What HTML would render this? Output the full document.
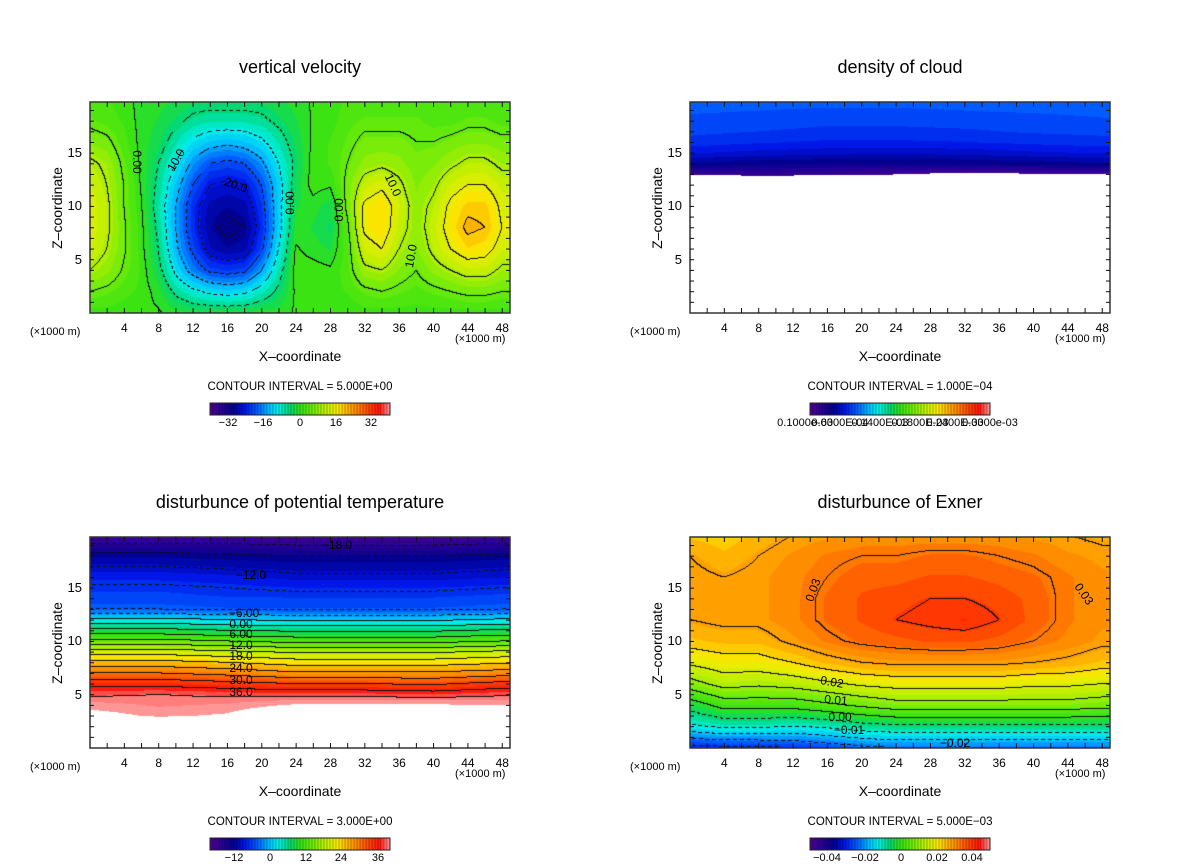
<!DOCTYPE html>
<html><head><meta charset="utf-8">
<style>
body{margin:0;background:#fff;width:1200px;height:868px;position:relative;overflow:hidden;font-family:"Liberation Sans",sans-serif;color:#000}
.t{position:absolute;white-space:nowrap}
.title{font-size:18px;transform:translateX(-50%)}
.small{font-size:12px}
canvas{position:absolute}
</style></head><body>
<div id="root"></div>
<script>
// ---------- DATA ----------
const wXs=[0,2,4,6,8,10,12,14,16,18,20,22,24,26,28,30,32,34,36,38,40,42,44,46,48];
const wZs=[20,18,16,14,12,10,8,6,4,2,0];
const wVals=[
[2,2,0.6,-0.6,-1,-2,-3,-3,-3,-3,-3,-2,-1,0.3,1,2,2,2,2,2,2,2,2,2,2],
[4,3,1.5,-0.8,-2,-4,-6,-7,-7,-7,-6,-4,-2,0.3,1,3,4,4,4,4,3,3,4,4,3],
[7,6,2.5,-0.8,-3,-7,-11,-13,-14,-13,-11,-7,-3,0.4,2,4,6,6,6,5,5,6,7,7,6],
[11,9,4,-0.5,-5,-10,-16,-20,-21,-20,-16,-10,-4,1,2,5,8,9,8,6,7,9,11,11,9],
[13,10,5,-0.3,-6,-13,-20,-25,-26,-25,-20,-12,-3,1,0.4,6,12,14,11,7,9,13,15,15,12],
[14,11,5,0.3,-7,-15,-23,-28,-29,-28,-22,-12,-2,-1,-3,6,16,18,13,8,11,16,19,19,14],
[14,11,5.5,0.8,-6,-15,-23,-29,-31,-30,-23,-12,-1,-2,-4,4,16,18,12,8,12,17,21,20,15],
[13,10,5.5,1,-5,-14,-21,-27,-29,-28,-21,-10,0.3,-1,-2,3,13,15,10,7,11,15,18,17,13],
[10,8,4.5,1.5,-3.5,-11,-17,-21,-22,-21,-15,-7,1,1,0.4,3,9,10,7,5,8,10,12,12,9],
[5,4,2.5,1.3,-1,-6,-9,-11,-12,-11,-8,-4,0.4,1,1,2,4,5,4,3,4,5,6,6,5],
[1,1,0.6,0.5,0.3,-1,-2,-2,-2,-2,-1,-1,0.3,0.3,0.3,0.3,1,1,1,1,1,1,1,1,1]];
const cXs=[0,8,16,24,32,40,48];
const cZs=[20,19,18,17,16,15,14,13,12,0];
const cVals=[
[7.8,7.8,7.8,7.8,7.8,7.8,7.8],
[7.6,7.5,7.4,7.4,7.5,7.6,7.7],
[7.3,7.2,7,7,7.1,7.2,7.4],
[7,6.8,6.6,6.6,6.7,6.9,7],
[6.5,6.2,6,6,6.1,6.3,6.5],
[5.5,5.2,5,4.9,5,5.3,5.5],
[4,3.6,3.4,3.4,3.5,3.7,4],
[1.2,1.8,1.5,1,0.5,0.8,0.9],
[-5,-5,-5,-5,-5,-5,-5],
[-9,-9,-9,-9,-9,-9,-9]];
const tXs=[0,8,16,24,32,40,48];
const tZs=[20,19,18,17,16,15,14,13,12,11,10,9,8,7,6,5,4,3,2,0];
const tVals=[
[-21,-21,-21,-21,-21,-21,-21],
[-17.5,-17.5,-17.5,-18,-18,-18,-17.5],
[-14,-14,-14.5,-15,-15,-15,-14.5],
[-12,-12,-12.5,-13,-13,-13,-12.5],
[-10,-10,-10.5,-11.5,-11.5,-11.5,-11],
[-8.5,-8.5,-9,-9.5,-9.5,-9.5,-9],
[-7.5,-7.5,-8,-8,-8,-8,-7.5],
[-6,-6,-6.5,-6.5,-6.5,-6.5,-6],
[1,1,0,-0.5,-0.5,-0.5,0.5],
[7,7,6,5.5,5.5,5.5,6.5],
[13,13,12,11,11,11,12],
[19.5,19.5,18.5,17.5,17.5,17.5,18.5],
[25,25,24,22.5,22.5,22.5,23.5],
[30,30,29,27.5,27.5,27.5,28.5],
[35,35,34,33,33,32.5,34],
[38.5,39,38.5,38,38,37.5,38.5],
[41,40,40.5,42.5,42.5,42.5,42],
[43.5,41.5,42.5,47,47,47,46],
[50,50,50,50,50,50,50],
[50,50,50,50,50,50,50]];
const eXs=[0,4,8,12,16,20,24,28,32,36,40,44,48];
const eZs=[20,18,16,14,12,10,8,6,4,2,0];
const eVals=[
[.022,.021,.023,.025,.026,.027,.027,.027,.027,.027,.026,.025,.024],
[.025,.023,.025,.027,.029,.030,.030,.031,.031,.030,.029,.027,.026],
[.026,.025,.026,.028,.030,.032,.032,.033,.033,.032,.031,.029,.027],
[.026,.026,.026,.028,.031,.033,.034,.035,.035,.034,.032,.029,.027],
[.025,.026,.026,.028,.031,.033,.035,.036,.037,.035,.032,.029,.027],
[.022,.023,.023,.026,.029,.031,.032,.033,.033,.032,.030,.028,.026],
[.016,.018,.018,.020,.023,.025,.026,.026,.026,.026,.025,.024,.022],
[.008,.012,.011,.012,.014,.016,.017,.017,.017,.017,.016,.016,.015],
[-.003,.002,.002,.002,.004,.006,.008,.008,.008,.008,.008,.008,.007],
[-.011,-.009,-.009,-.010,-.009,-.007,-.006,-.006,-.006,-.006,-.006,-.006,-.006],
[-.027,-.026,-.026,-.025,-.023,-.021,-.020,-.020,-.020,-.020,-.020,-.020,-.020]];
const xTicks=[4,8,12,16,20,24,28,32,36,40,44,48];
const zTicks=[5,10,15];

// ---------- RENDER ----------
const stops=[[0,[80,0,144]],[0.07,[40,0,150]],[0.13,[0,0,140]],[0.19,[0,20,230]],[0.26,[0,90,255]],[0.33,[0,190,255]],[0.38,[0,240,230]],[0.44,[0,215,120]],[0.5,[50,225,20]],[0.57,[110,235,10]],[0.64,[190,240,0]],[0.71,[250,235,0]],[0.76,[255,180,0]],[0.82,[255,130,0]],[0.88,[255,70,0]],[0.94,[255,20,10]],[1,[255,150,150]]];
function cmap(t){t=Math.max(0,Math.min(1,t));for(let i=1;i<stops.length;i++){if(t<=stops[i][0]){const a=stops[i-1],b=stops[i];const f=(t-a[0])/(b[0]-a[0]);return a[1].map((c,k)=>Math.round(c+(b[1][k]-c)*f));}}return stops[stops.length-1][1];}
function seg(arr,v){for(let i=0;i<arr.length-1;i++){if(v>=arr[i]&&v<=arr[i+1])return[i,(v-arr[i])/(arr[i+1]-arr[i])];}return v<arr[0]?[0,0]:[arr.length-2,1];}
function interp(xs,zsDesc,vals,x,z){const zs=zsDesc.slice().reverse();const rows=vals.slice().reverse();const[i,fx]=seg(xs,Math.min(x,xs[xs.length-1]));const[j,fz]=seg(zs,z);const v00=rows[j][i],v10=rows[j][i+1],v01=rows[j+1][i],v11=rows[j+1][i+1];return v00*(1-fx)*(1-fz)+v10*fx*(1-fz)+v01*(1-fx)*fz+v11*fx*fz;}
const root=document.getElementById('root');
const PW=420,PH=211,XMAX=48.9,ZMAX=19.8;
function txt(s,x,y,cls,extra){const d=document.createElement('div');d.className='t '+(cls||'');d.textContent=s;d.style.left=x+'px';d.style.top=y+'px';if(extra)d.style.cssText+=extra;root.appendChild(d);return d;}
function panel(cfg){
 const {ox,oy,xs,zs,vals,tmap,white,ci,name}=cfg;
 const cv=document.createElement('canvas');cv.width=PW;cv.height=PH;cv.style.left=ox+'px';cv.style.top=oy+'px';
 
 
 root.appendChild(cv);
 const ctx=cv.getContext('2d');const img=ctx.createImageData(PW,PH);
 const V=[];for(let py=0;py<PH;py++){V[py]=[];for(let px=0;px<PW;px++){const x=(px+0.5)/PW*XMAX,z=(PH-py-0.5)/PH*ZMAX;V[py][px]=interp(xs,zs,vals,x,z);}}
 const N=44;
 for(let py=0;py<PH;py++)for(let px=0;px<PW;px++){const v=V[py][px];const k=(py*PW+px)*4;let c;
  if(white(v))c=[255,255,255];else{let t=tmap(v);t=(Math.floor(t*N)+0.5)/N;c=cmap(t);
   if(ci){const l=Math.floor(v/ci);let edge=false;
    if(px<PW-1&&!white(V[py][px+1])&&Math.floor(V[py][px+1]/ci)!==l)edge=true;
    if(py<PH-1&&!white(V[py+1][px])&&Math.floor(V[py+1][px]/ci)!==l)edge=true;
    if(edge){const neg=v<-ci*0.5;if(!neg||((px+py)%7)<4)c=[15,15,15];}}}
  img.data[k]=c[0];img.data[k+1]=c[1];img.data[k+2]=c[2];img.data[k+3]=255;}
 ctx.putImageData(img,0,0);
 const svgNS='http://www.w3.org/2000/svg';const s=document.createElementNS(svgNS,'svg');
 s.setAttribute('width',PW+2);s.setAttribute('height',PH+2);s.style.position='absolute';s.style.left=(ox-1)+'px';s.style.top=(oy-1)+'px';
 
 
 let h=`<rect x="1" y="1" width="${PW}" height="${PH}" fill="none" stroke="#333" stroke-width="1.5"/>`;
 for(let xv=2;xv<XMAX;xv+=2){const X=1+xv/XMAX*PW;h+=`<line x1="${X}" y1="1" x2="${X}" y2="6" stroke="#111"/><line x1="${X}" y1="${PH+1}" x2="${X}" y2="${PH-4}" stroke="#111"/>`;}
 for(let zv=1;zv<ZMAX;zv++){const Y=1+PH-zv/ZMAX*PH;h+=`<line x1="1" y1="${Y}" x2="5" y2="${Y}" stroke="#111"/><line x1="${PW+1}" y1="${Y}" x2="${PW-3}" y2="${Y}" stroke="#111"/>`;}
 s.innerHTML=h;root.appendChild(s);
 xTicks.forEach(v=>{const d=txt(String(v),ox+v/XMAX*PW,oy+PH+8,'small','transform:translateX(-50%)');
  
  });
 zTicks.forEach(v=>{const d=txt(String(v),ox-8,oy+PH-v/ZMAX*PH-8,'small','transform:translateX(-100%);font-size:13px');
  
  });
 let d=txt('(×1000 m)',ox-60,oy+PH+13,'small','font-size:11px');
 d=txt('(×1000 m)',ox+PW-55,oy+PH+20,'small','font-size:11px');
 d=txt('X–coordinate',ox+PW/2,oy+PH+35,'','font-size:14px;transform:translateX(-50%)');
 d=txt('Z–coordinate',ox-33,oy+PH/2,'','font-size:14px;transform:translate(-50%,-50%) rotate(-90deg)');
 d=txt(cfg.title,ox+PW/2,oy-45,'title');
 d=txt('CONTOUR INTERVAL = '+cfg.ciText,ox+PW/2,oy+PH+68,'small','font-size:11.5px;transform:translateX(-50%)');
 const cb=document.createElementNS(svgNS,'svg');cb.setAttribute('width',182);cb.setAttribute('height',15);cb.style.position='absolute';cb.style.left=(cfg.cbx)+'px';cb.style.top=(oy+PH+89)+'px';
 
 
 let ch='';const n=60;for(let i=0;i<n;i++){const c=cmap((i+0.5)/n);ch+=`<rect x="${1+i*3}" y="1" width="3" height="12" fill="rgb(${c})"/><line x1="${1+i*3}" y1="1" x2="${1+i*3}" y2="13" stroke="rgba(0,0,0,0.45)" stroke-width="0.6"/>`;}
 ch+='<rect x="1" y="1" width="180" height="12" fill="none" stroke="#222"/>';cb.innerHTML=ch;root.appendChild(cb);
 cfg.cbLabels.forEach(([s,x])=>{const e=txt(s,x,oy+PH+104,'small','font-size:11px;transform:translateX(-50%)');
  
  });
 (cfg.labels||[]).forEach(([s,x,y,r])=>{const e=txt(s,x,y,'','font-size:12px;transform:translate(-50%,-50%) rotate('+r+'deg)');
  
  });
}
panel({name:'vertical-velocity',title:'vertical velocity',ox:90,oy:102,xs:wXs,zs:wZs,vals:wVals,tmap:v=>(v+40)/80,white:v=>false,ci:5,ciText:'5.000E+00',cbx:209,
 cbLabels:[['−32',228],['−16',263],['0',300],['16',336],['32',371]],
 labels:[['0.00',137,162,90],['10.0',176,160,-60],['20.0',236,185,20],['0.00',290,203,-90],['0.00',339,210,-90],['10.0',393,185,65],['10.0',411,256,-80]]});
panel({name:'cloud-density',title:'density of cloud',ox:690,oy:102,xs:cXs,zs:cZs,vals:cVals,tmap:v=>v/30,white:v=>v<1,ci:0,ciText:'1.000E−04',cbx:809,
 cbLabels:[['0.1000e-03',805],['0.6000E-04',840],['0.1400E-03',880],['0.1800E-03',920],['0.2400E-03',955],['0.3000e-03',990]]});
panel({name:'potential-temperature',title:'disturbunce of potential temperature',ox:90,oy:537,xs:tXs,zs:tZs,vals:tVals,tmap:v=>(v+22.4)/62.6,white:v=>v>42,ci:3,ciText:'3.000E+00',cbx:209,
 cbLabels:[['−12',234],['0',270],['12',306],['24',341],['36',378]],
 labels:[['−18.0',337,545,0],['−12.0',251,575,0],['−6.00',244,613,0],['0.00',241,624,0],['6.00',241,634,0],['12.0',241,645,0],['18.0',241,656,0],['24.0',241,668,0],['30.0',241,680,0],['36.0',241,692,0]]});
panel({name:'exner',title:'disturbunce of Exner',ox:690,oy:537,xs:eXs,zs:eZs,vals:eVals,tmap:v=>(v+0.045)/0.09,white:v=>false,ci:0.005,ciText:'5.000E−03',cbx:809,
 cbLabels:[['−0.04',827],['−0.02',865],['0',901],['0.02',937],['0.04',972]],
 labels:[['0.03',813,590,-70],['0.03',1084,594,55],['0.02',832,682,10],['0.01',836,700,5],['0.00',840,717,0],['−0.01',849,730,0],['−0.02',955,743,0]]});
</script>
</body></html>
